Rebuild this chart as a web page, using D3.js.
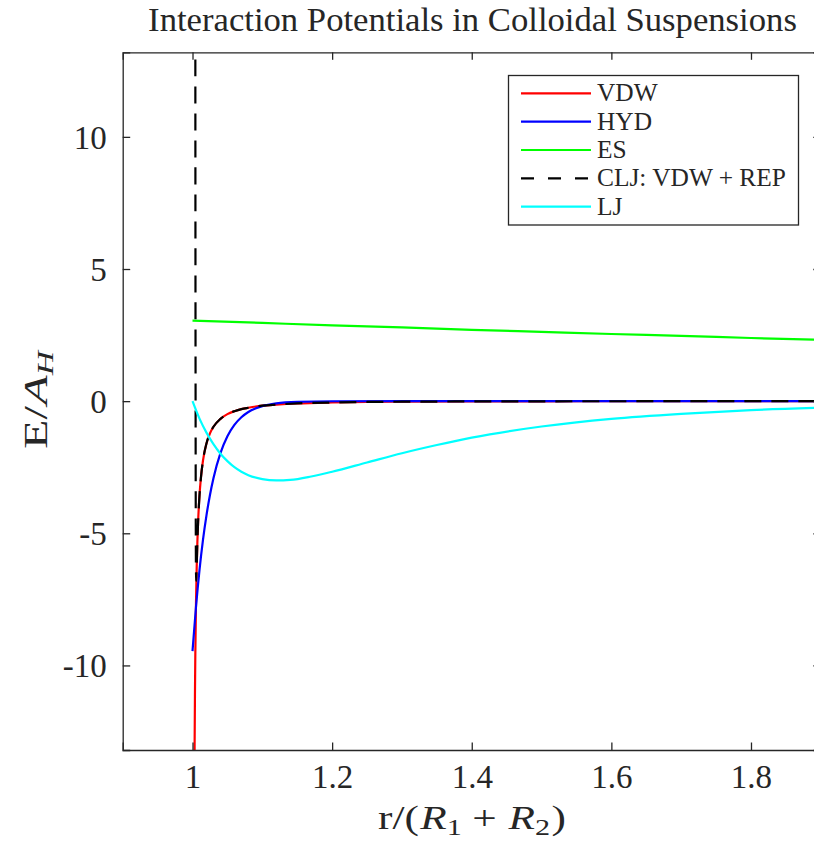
<!DOCTYPE html>
<html>
<head>
<meta charset="utf-8">
<script src="https://cdn.jsdelivr.net/npm/d3@7"></script>
<style>
  body { margin: 0; background: #fff; }
  svg { display: block; }
  text { font-family: "Liberation Serif", "DejaVu Serif", serif; fill: #262626; }
</style>
</head>
<body>
<svg id="chart" width="814" height="842"></svg>
<script>
// ---- data ----
const titleText = "Interaction Potentials in Colloidal Suspensions";
const seriesNames = ["VDW", "HYD", "ES", "CLJ: VDW + REP", "LJ"];
const seriesColors = ["#ff0000", "#0000ff", "#00ff00", "#000000", "#00ffff"];
const xTicks = [1, 1.2, 1.4, 1.6, 1.8];
const yTicks = [-10, -5, 0, 5, 10];
const xLimits = [0.9, 1.9];
const yLimits = [-13.2, 13.2];

// van der Waals attraction
const vdwX = [1.0028, 1.003, 1.0035, 1.004, 1.005, 1.006, 1.007, 1.008, 1.010, 1.012, 1.015, 1.020, 1.025, 1.030, 1.040, 1.050, 1.060, 1.070, 1.080, 1.100, 1.120, 1.150, 1.200, 1.250, 1.300, 1.400, 1.500, 1.700, 1.900];
const vdwY = [-14.08, -13.10, -11.14, -9.67, -7.63, -6.27, -5.30, -4.58, -3.57, -2.91, -2.25, -1.60, -1.22, -0.97, -0.67, -0.49, -0.38, -0.30, -0.25, -0.17, -0.13, -0.086, -0.050, -0.031, -0.021, -0.010, -0.006, -0.002, -0.001];

// hydration
const hydX = [1.000, 1.005, 1.010, 1.015, 1.020, 1.025, 1.030, 1.040, 1.050, 1.060, 1.070, 1.080, 1.090, 1.100, 1.120, 1.150, 1.200, 1.300, 1.900];
const hydY = [-9.46, -7.78, -6.39, -5.25, -4.32, -3.55, -2.92, -1.97, -1.33, -0.90, -0.61, -0.41, -0.28, -0.19, -0.086, -0.026, -0.004, 0, 0];

// electrostatic
const esX = [1.0, 1.1, 1.2, 1.3, 1.4, 1.5, 1.6, 1.7, 1.8, 1.9];
const esY = [3.05, 2.96, 2.87, 2.79, 2.70, 2.62, 2.54, 2.47, 2.39, 2.32];

// colloidal Lennard-Jones: VDW + repulsion
const cljX = [1.0040, 1.0043, 1.0046, 1.0049, 1.0053, 1.0058, 1.0065, 1.007, 1.008, 1.010, 1.012, 1.015, 1.020, 1.025, 1.030, 1.040, 1.050, 1.060, 1.070, 1.080, 1.100, 1.120, 1.150, 1.200, 1.250, 1.300, 1.400, 1.500, 1.700, 1.900];
const cljY = [16, 3, -3.5, -6.3, -6.8, -6.4, -5.76, -5.30, -4.58, -3.57, -2.91, -2.25, -1.60, -1.22, -0.97, -0.67, -0.49, -0.38, -0.30, -0.25, -0.17, -0.13, -0.086, -0.050, -0.031, -0.021, -0.010, -0.006, -0.002, -0.001];

// Lennard-Jones
const ljX = [1.00, 1.01, 1.02, 1.03, 1.04, 1.05, 1.06, 1.07, 1.08, 1.10, 1.12, 1.14, 1.17, 1.20, 1.25, 1.30, 1.35, 1.40, 1.50, 1.60, 1.70, 1.80, 1.90];
const ljY = [0, -0.66, -1.19, -1.63, -1.99, -2.27, -2.50, -2.67, -2.80, -2.95, -3.00, -2.98, -2.85, -2.67, -2.32, -1.97, -1.66, -1.38, -0.96, -0.67, -0.48, -0.34, -0.25];

const seriesX = [vdwX, hydX, esX, cljX, ljX];
const seriesY = [vdwY, hydY, esY, cljY, ljY];
const seriesDash = [null, null, null, "17,10", null];

// ---- layout ----
const svg = d3.select("#chart");
const plot = { left: 122.7, right: 820.8, top: 52.3, bottom: 750 };
const axisColor = "#262626";
const tickLen = 7.5;
const serif = '"Liberation Serif", "DejaVu Serif", serif';

const x = d3.scaleLinear().domain(xLimits).range([plot.left, plot.right]);
const y = d3.scaleLinear().domain(yLimits).range([plot.bottom, plot.top]);

svg.append("rect").attr("width", 814).attr("height", 842).attr("fill", "#fff");

svg.append("defs").append("clipPath").attr("id", "plotClip")
  .append("rect")
  .attr("x", plot.left).attr("y", plot.top)
  .attr("width", plot.right - plot.left).attr("height", plot.bottom - plot.top);

// ---- curves ----
const line = d3.line()
  .x(d => x(d[0]))
  .y(d => y(d[1]))
  .curve(d3.curveMonotoneX);

const curves = svg.append("g").attr("clip-path", "url(#plotClip)");
seriesNames.forEach((name, i) => {
  const pts = seriesX[i].map((v, k) => [v, seriesY[i][k]]);
  curves.append("path")
    .datum(pts)
    .attr("d", line)
    .attr("fill", "none")
    .attr("stroke", seriesColors[i])
    .attr("stroke-width", 2.2)
    .attr("stroke-dasharray", seriesDash[i])
    .attr("stroke-linejoin", "round");
});

// ---- axes (boxed, ticks pointing inward) ----
const bottomAxis = d3.axisBottom(x).tickValues(xTicks).tickSize(-tickLen).tickPadding(16)
  .tickFormat(d3.format("~g"));
const topAxis = d3.axisTop(x).tickValues(xTicks).tickSize(-tickLen).tickFormat("");
const leftAxis = d3.axisLeft(y).tickValues(yTicks).tickSize(-tickLen).tickPadding(16)
  .tickFormat(d => d3.format("~g")(d).replace("−", "-"));
const rightAxis = d3.axisRight(y).tickValues(yTicks).tickSize(-tickLen).tickFormat("");

function styleAxis(g) {
  g.attr("font-family", null);
  g.select(".domain").attr("stroke", axisColor).attr("stroke-width", 1.3).attr("fill", "none");
  g.selectAll(".tick line").attr("stroke", axisColor).attr("stroke-width", 1.3);
  g.selectAll(".tick text")
    .attr("fill", axisColor)
    .style("font-family", serif)
    .style("font-size", "33px");
}

svg.append("g").attr("transform", `translate(0,${plot.bottom})`).call(bottomAxis).call(styleAxis)
  .call(g => g.selectAll(".tick text").attr("dy", "0.66em"));
svg.append("g").attr("transform", `translate(0,${plot.top})`).call(topAxis).call(styleAxis);
svg.append("g").attr("transform", `translate(${plot.left},0)`).call(leftAxis).call(styleAxis)
  .call(g => g.selectAll(".tick text").attr("dy", "0.34em"));
svg.append("g").attr("transform", `translate(${plot.right},0)`).call(rightAxis).call(styleAxis);

// horizontal stretch factor that brings a label to a given width
function stretchTo(text, target) {
  const w = text.node().getBBox().width;
  return target / w;
}

// ---- title ----
const title = svg.append("text")
  .attr("x", 472.5).attr("y", 31)
  .attr("text-anchor", "middle")
  .style("font-size", "28px")
  .attr("fill", "#000")
  .text(titleText);
{
  const w = title.node().getComputedTextLength();
  title.style("font-size", (28 * 649 / w) + "px");
}

// ---- axis labels ----
const xLabelG = svg.append("g");
const xLabel = xLabelG.append("text")
  .attr("x", 0).attr("y", 0)
  .attr("text-anchor", "middle")
  .style("font-size", "33px");
xLabel.append("tspan").text("r/(");
xLabel.append("tspan").attr("dx", 1).style("font-style", "italic").text("R");
xLabel.append("tspan").attr("dy", 6).style("font-size", "23px").text("1");
xLabel.append("tspan").attr("dy", -6).attr("dx", 8).text("+");
xLabel.append("tspan").attr("dx", 9).style("font-style", "italic").text("R");
xLabel.append("tspan").attr("dy", 6).style("font-size", "23px").text("2");
xLabel.append("tspan").attr("dy", -6).attr("dx", 1).text(")");
xLabelG.attr("transform", `translate(472,829) scale(${stretchTo(xLabel, 188)},1)`);

const yLabelG = svg.append("g");
const yLabel = yLabelG.append("text")
  .attr("x", 0).attr("y", 0)
  .attr("text-anchor", "middle")
  .style("font-size", "33px");
yLabel.append("tspan").text("E/");
yLabel.append("tspan").attr("dx", 1).style("font-style", "italic").text("A");
yLabel.append("tspan").attr("dy", 6).style("font-style", "italic").style("font-size", "23px").text("H");
yLabelG.attr("transform", `translate(47,400) rotate(-90) scale(${stretchTo(yLabel, 100)},1)`);

// ---- legend ----
const legend = svg.append("g");
legend.append("rect")
  .attr("x", 508.5).attr("y", 75.5)
  .attr("width", 290).attr("height", 149.5)
  .attr("fill", "#fff")
  .attr("stroke", axisColor)
  .attr("stroke-width", 1.3);
const rowY = d3.scalePoint().domain(seriesNames).range([93.3, 206.7]);
const legendDash = [null, null, null, "13,14", null];
seriesNames.forEach((name, i) => {
  const cy = rowY(name);
  legend.append("line")
    .attr("x1", 521).attr("x2", 591)
    .attr("y1", cy).attr("y2", cy)
    .attr("stroke", seriesColors[i])
    .attr("stroke-width", 2.2)
    .attr("stroke-dasharray", legendDash[i]);
  legend.append("text")
    .attr("class", "legend-label")
    .attr("x", 597).attr("y", cy + 8)
    .attr("fill", "#000")
    .style("font-size", "23px")
    .text(name);
});
// size legend labels so the longest entry spans the box
const cljLabel = legend.selectAll(".legend-label")
  .filter(function() { return this.textContent === "CLJ: VDW + REP"; });
const wLong = cljLabel.node().getComputedTextLength();
const legendSize = Math.min(26, 23 * 189 / wLong);
legend.selectAll(".legend-label").style("font-size", legendSize + "px");
</script>
</body>
</html>
